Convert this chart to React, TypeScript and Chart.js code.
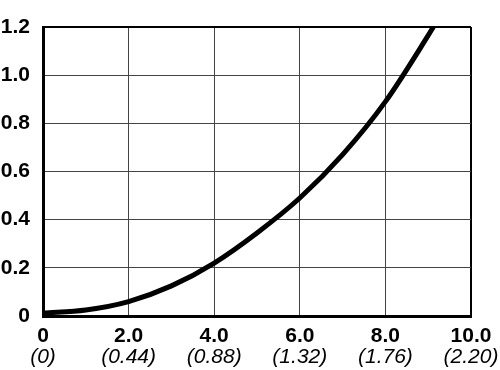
import React, { useEffect, useRef } from "react";
import { Chart, registerables } from "chart.js";
Chart.register(...registerables);

const curveX = [0, 1, 2, 3, 4, 5, 6, 7, 8, 9, 9.12];
const curveY = [0.012, 0.025, 0.06, 0.125, 0.22, 0.345, 0.49, 0.67, 0.89, 1.165, 1.2];
const xTickLabels = ["0", "2.0", "4.0", "6.0", "8.0", "10.0"];
const xSubLabels = ["(0)", "(0.44)", "(0.88)", "(1.32)", "(1.76)", "(2.20)"];
const yTickLabels = ["0", "0.2", "0.4", "0.6", "0.8", "1.0", "1.2"];

const FAMILY = "'Liberation Sans', Arial, Helvetica, sans-serif";

export default function App() {
  const ref = useRef<HTMLCanvasElement | null>(null);
  useEffect(() => {
    if (!ref.current) return;
    const chart = new Chart(ref.current, {
      type: "line",
      data: {
        datasets: [
          {
            data: curveX.map((x, i) => ({ x, y: curveY[i] })),
            borderColor: "#000",
            borderWidth: 5,
            pointRadius: 0,
            cubicInterpolationMode: "monotone",
            fill: false,
          },
        ],
      },
      options: {
        responsive: false,
        animation: false,
        layout: { padding: { top: 27, right: 29, left: 0, bottom: 0 } },
        plugins: { legend: { display: false }, tooltip: { enabled: false } },
        scales: {
          x: {
            type: "linear",
            position: "bottom",
            min: 0,
            max: 10,
            weight: 0,
            ticks: {
              stepSize: 2,
              padding: 8,
              color: "#000",
              maxRotation: 0,
              autoSkip: false,
              font: { family: FAMILY, size: 21, weight: "bold" },
              callback: (v: any) => xTickLabels[Math.round(Number(v) / 2)],
            },
            grid: {
              drawTicks: false,
              color: (ctx: any) => (ctx.index === 5 ? "#000" : "#444"),
              lineWidth: (ctx: any) => (ctx.index === 5 ? 2 : 1),
            },
            border: { display: true, color: "#000", width: 3 },
            afterFit: (s: any) => {
              s.height = 29;
            },
          },
          x2: {
            type: "linear",
            axis: "x",
            position: "bottom",
            min: 0,
            max: 10,
            weight: 1,
            ticks: {
              stepSize: 2,
              padding: 0,
              color: "#000",
              maxRotation: 0,
              autoSkip: false,
              font: { family: FAMILY, size: 21, style: "italic" },
              callback: (v: any) => xSubLabels[Math.round(Number(v) / 2)],
            },
            grid: { display: false, drawTicks: false },
            border: { display: false },
            afterFit: (s: any) => {
              s.height = 25;
            },
          },
          y: {
            min: 0,
            max: 1.2,
            ticks: {
              stepSize: 0.2,
              padding: 13,
              color: "#000",
              font: { family: FAMILY, size: 21, weight: "bold" },
              callback: (v: any) => yTickLabels[Math.round(Number(v) / 0.2)],
            },
            grid: {
              drawTicks: false,
              color: (ctx: any) => (ctx.index === 6 ? "#000" : "#444"),
              lineWidth: (ctx: any) => (ctx.index === 6 ? 2 : 1),
            },
            border: { display: true, color: "#000", width: 3 },
            afterFit: (s: any) => {
              s.width = 43;
            },
          },
        },
      },
    } as any);
    return () => chart.destroy();
  }, []);
  return (
    <div style={{ position: "fixed", left: 0, top: 0, width: 500, height: 370, background: "#fff" }}>
      <canvas ref={ref} width={500} height={370} style={{ width: 500, height: 370 }} />
    </div>
  );
}
